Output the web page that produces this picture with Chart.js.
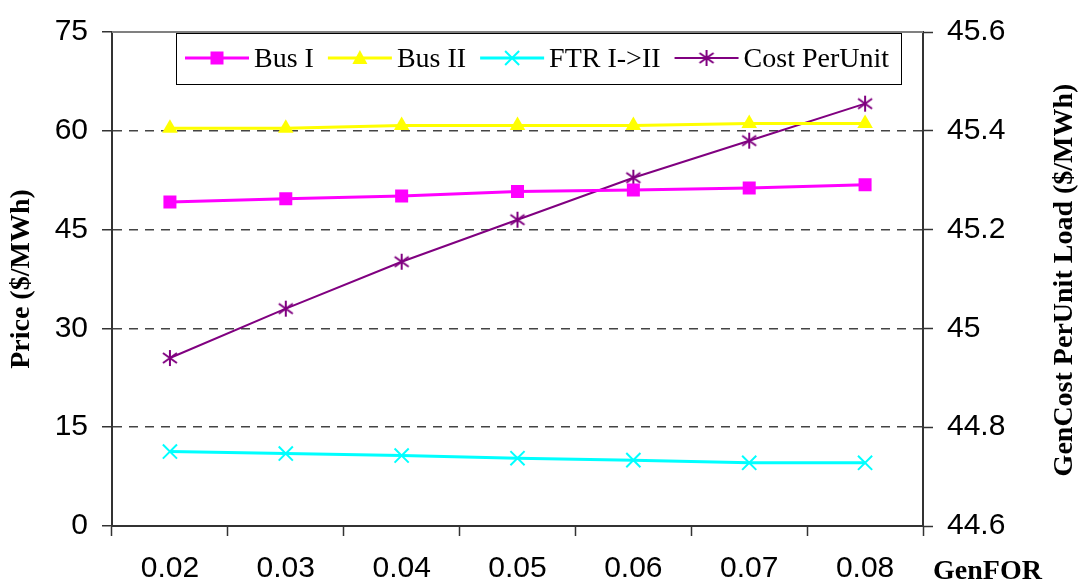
<!DOCTYPE html>
<html>
<head>
<meta charset="utf-8">
<title>Price vs GenFOR</title>
<script src="https://cdn.jsdelivr.net/npm/chart.js@4.4.1/dist/chart.umd.min.js"></script>
<style>
  html, body { margin: 0; padding: 0; background: #fff; }
  #wrap { width: 1086px; height: 588px; position: relative; }
</style>
</head>
<body>
<div id="wrap"><canvas id="myChart" width="1086" height="588"></canvas></div>
<script>
const categories = ['0.02', '0.03', '0.04', '0.05', '0.06', '0.07', '0.08'];
const busI = [49.2, 49.7, 50.1, 50.8, 51.0, 51.3, 51.8];
const busII = [60.4, 60.4, 60.8, 60.8, 60.8, 61.1, 61.1];
const ftr = [11.3, 11.0, 10.7, 10.3, 10.0, 9.6, 9.6];
const costPerUnit = [44.94, 45.04, 45.135, 45.22, 45.305, 45.38, 45.455];
const priceTicks = [0, 15, 30, 45, 60, 75];
const costTicks = [44.6, 44.8, 45, 45.2, 45.4, 45.6];

const sans = "'Liberation Sans', Arial, sans-serif";
const serif = "'Liberation Serif', 'Times New Roman', serif";

// asterisk marker like the excel one (vertical bar + X)
const star = document.createElement('canvas');
star.width = 18; star.height = 18;
(function(){
  const c = star.getContext('2d');
  c.strokeStyle = '#800080';
  c.lineWidth = 2;
  c.beginPath();
  c.moveTo(9, 1); c.lineTo(9, 17);
  c.moveTo(2, 4); c.lineTo(16, 14);
  c.moveTo(2, 14); c.lineTo(16, 4);
  c.stroke();
})();

function drawMarker(ctx, ds, x, y){
  const col = ds.borderColor;
  ctx.fillStyle = col;
  ctx.strokeStyle = col;
  if (ds.pointStyle === 'rect'){
    ctx.fillRect(x - 6.5, y - 6.5, 13, 13);
  } else if (ds.pointStyle === 'triangle'){
    ctx.beginPath();
    ctx.moveTo(x, y - 8);
    ctx.lineTo(x + 7.5, y + 6);
    ctx.lineTo(x - 7.5, y + 6);
    ctx.closePath();
    ctx.fill();
  } else if (ds.pointStyle === 'crossRot'){
    ctx.lineWidth = 2;
    ctx.beginPath();
    ctx.moveTo(x - 7, y - 7); ctx.lineTo(x + 7, y + 7);
    ctx.moveTo(x - 7, y + 7); ctx.lineTo(x + 7, y - 7);
    ctx.stroke();
  } else {
    ctx.drawImage(star, x - 9, y - 9);
  }
}

const extras = {
  id: 'extras',
  afterDraw(chart){
    const ctx = chart.ctx;
    const a = chart.chartArea;
    ctx.save();
    // top frame line
    ctx.strokeStyle = '#808080';
    ctx.lineWidth = 2;
    ctx.beginPath();
    ctx.moveTo(a.left, a.top);
    ctx.lineTo(a.right, a.top);
    ctx.stroke();

    // legend
    const box = {x: 176, y: 33, w: 725, h: 51};
    ctx.fillStyle = '#fff';
    ctx.fillRect(box.x, box.y, box.w, box.h);
    ctx.strokeStyle = '#000';
    ctx.lineWidth = 1;
    ctx.strokeRect(box.x + 0.5, box.y + 0.5, box.w, box.h);
    ctx.font = '28px ' + serif;
    ctx.textBaseline = 'alphabetic';
    ctx.textAlign = 'left';
    let x = box.x + 9;
    const my = box.y + 25;
    chart.data.datasets.forEach(ds => {
      ctx.strokeStyle = ds.borderColor;
      ctx.lineWidth = ds.borderWidth;
      ctx.beginPath();
      ctx.moveTo(x, my);
      ctx.lineTo(x + 64, my);
      ctx.stroke();
      drawMarker(ctx, ds, x + 32, my);
      ctx.fillStyle = '#000';
      ctx.fillText(ds.label, x + 69, my + 9);
      x += 69 + ctx.measureText(ds.label).width + 14;
    });

    // right axis title
    ctx.font = 'bold 28px ' + serif;
    ctx.fillStyle = '#000';
    ctx.textAlign = 'center';
    ctx.textBaseline = 'middle';
    ctx.translate(1065, 280);
    ctx.rotate(-Math.PI / 2);
    ctx.fillText('GenCost PerUnit Load ($/MWh)', 0, 0);
    ctx.setTransform(1, 0, 0, 1, 0, 0);

    // x axis title sits at the right, level with the labels
    ctx.textAlign = 'left';
    ctx.textBaseline = 'alphabetic';
    ctx.fillText('GenFOR', 933, 579);
    ctx.restore();
  }
};

new Chart('myChart', {
  type: 'line',
  data: {
    labels: categories,
    datasets: [
      {label: 'Bus I', data: busI, yAxisID: 'y', borderColor: '#FF00FF', backgroundColor: '#FF00FF',
       borderWidth: 3, pointStyle: 'rect', pointRadius: 9.2, pointBorderWidth: 0},
      {label: 'Bus II', data: busII, yAxisID: 'y', borderColor: '#FFFF00', backgroundColor: '#FFFF00',
       borderWidth: 3, pointStyle: 'triangle', pointRadius: 9, pointBorderWidth: 0},
      {label: 'FTR I->II', data: ftr, yAxisID: 'y', borderColor: '#00FFFF', backgroundColor: '#00FFFF',
       borderWidth: 3, pointStyle: 'crossRot', pointRadius: 10, pointBorderWidth: 2},
      {label: 'Cost PerUnit', data: costPerUnit, yAxisID: 'y1', borderColor: '#800080', backgroundColor: '#800080',
       borderWidth: 2, pointStyle: star, pointRadius: 9}
    ]
  },
  options: {
    responsive: false,
    animation: false,
    layout: {padding: {top: 20, left: 0, right: 0, bottom: 0}},
    elements: {line: {tension: 0}},
    plugins: {legend: {display: false}, tooltip: {enabled: false}},
    scales: {
      x: {
        offset: true,
        grid: {offset: true, drawOnChartArea: false, tickLength: 10, tickColor: '#333', tickWidth: 1.5},
        border: {color: '#333', width: 2},
        ticks: {color: '#000', font: {family: sans, size: 30}, padding: 15, maxRotation: 0},
        afterFit(s){ s.height = 62; }
      },
      y: {
        position: 'left',
        min: 0, max: 75,
        afterBuildTicks(s){ s.ticks = priceTicks.map(v => ({value: v})); },
        grid: {
          color: c => (c.tick && (c.tick.value === 0 || c.tick.value === 75)) ? 'rgba(0,0,0,0)' : '#444',
          lineWidth: 1.5,
          tickLength: 10, tickColor: '#333', tickBorderDash: [], tickWidth: 1.5
        },
        border: {color: '#333', width: 2, dash: [9, 7]},
        ticks: {color: '#000', font: {family: sans, size: 30}, padding: 14},
        title: {display: true, text: 'Price ($/MWh)', color: '#000',
                font: {family: serif, size: 28, weight: 'bold'}, padding: {top: 5, bottom: 0}},
        afterFit(s){ s.width = 112; }
      },
      y1: {
        position: 'right',
        min: 44.6, max: 45.6,
        afterBuildTicks(s){ s.ticks = costTicks.map(v => ({value: v})); },
        grid: {drawOnChartArea: false, tickLength: 10, tickColor: '#333', tickWidth: 1.5},
        border: {color: '#333', width: 2},
        ticks: {color: '#000', font: {family: sans, size: 30}, padding: 14,
                callback: v => String(+v.toFixed(1))},
        afterFit(s){ s.width = 163; }
      }
    }
  },
  plugins: [extras]
});
</script>
</body>
</html>
